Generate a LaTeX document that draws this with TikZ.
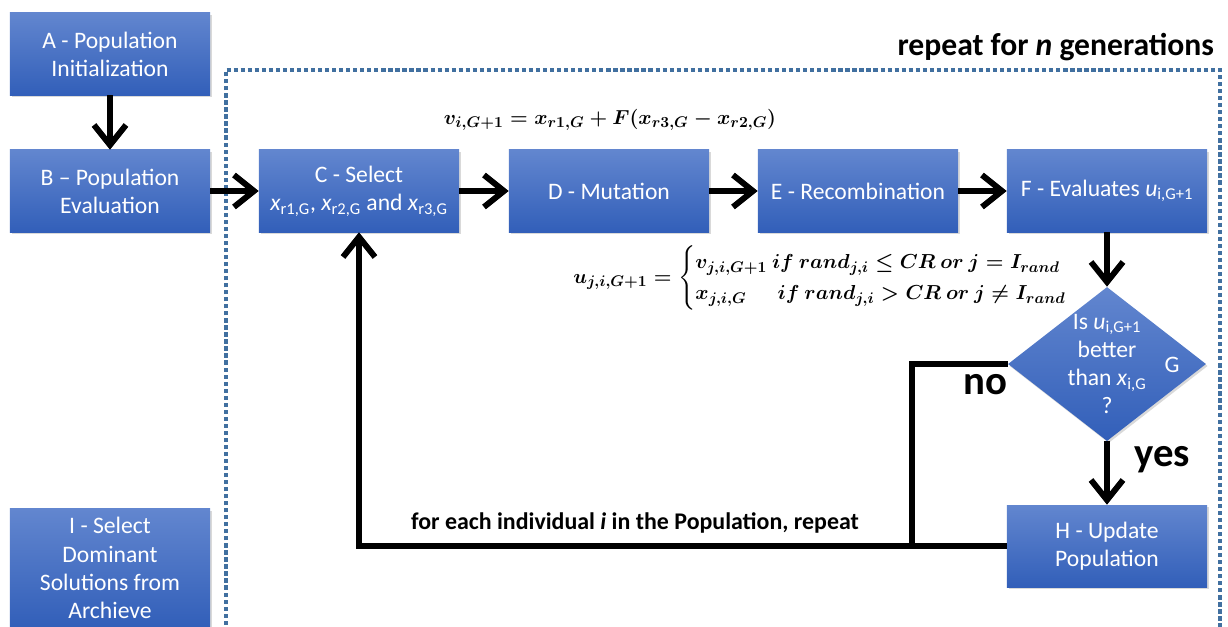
\documentclass[tikz,border=0pt]{standalone}
\usepackage{amsmath,amssymb}
\usepackage{fontspec}
\setmainfont{Carlito}
\usepackage{xcolor}
\usetikzlibrary{arrows.meta,shapes.geometric,shadows}

\definecolor{boxtop}{RGB}{98,134,207}
\definecolor{boxbot}{RGB}{50,95,185}
\definecolor{framecol}{RGB}{65,112,160}

\newcommand{\mutationeq}{$\boldsymbol{v_{i,G+1} = x_{r1,G} + F(x_{r3,G} - x_{r2,G})}$}
\newcommand{\crossovereq}{$\boldsymbol{u_{j,i,G+1} = \begin{cases} v_{j,i,G+1}\ if\ rand_{j,i} \le CR\ or\ j = I_{rand}\\ x_{j,i,G}\quad\ \ if\ rand_{j,i} > CR\ or\ j \neq I_{rand}\end{cases}}$}

\tikzset{
  stepbox/.style={draw=none, top color=boxtop, bottom color=boxbot, minimum width=5cm, minimum height=2.05cm, align=center, text=white, font=\fontsize{16.8}{20}\selectfont, drop shadow={opacity=0.3, shadow xshift=0.4mm, shadow yshift=-0.5mm}},
  decision/.style={diamond, draw=none, top color=boxtop, bottom color=boxbot, minimum width=4.95cm, minimum height=3.85cm, inner sep=-1.5cm, align=center, text=white, font=\fontsize{16.8}{20}\selectfont, drop shadow={opacity=0.3, shadow xshift=0.4mm, shadow yshift=-0.5mm}},
  boxtext/.style={text=white, align=center, font=\fontsize{16.8}{20}\selectfont},
  flow/.style={line width=4.2pt, -{Straight Barb[length=0.5cm, width=0.8cm]}},
  plain/.style={line width=4.2pt},
  biglabel/.style={font=\bfseries\fontsize{29}{32}\selectfont},
}

\begin{document}
\begin{tikzpicture}[x=0.025cm, y=-0.025cm]
\useasboundingbox (0,0) rectangle (1228,626);

% loop frame
\draw[framecol, line width=3pt, dash pattern=on 3pt off 2pt] (226,660) -- (226,70) -- (1220,70) -- (1220,660);
\node[anchor=east, font=\bfseries\fontsize{22.5}{26}\selectfont] (gentitle) at (1219,47) {repeat for \textit{n} generations};

% steps
\node[stepbox] (popinit) at (110,54) {A - Population\\Initialization};
\node[stepbox] (popeval) at (110,191) {B -- Population\\Evaluation};
\node[stepbox] (select) at (359,191) {C - Select\\\textit{x}\textsubscript{r1,G}, \textit{x}\textsubscript{r2,G} and \textit{x}\textsubscript{r3,G}};
\node[stepbox] (mutation) at (609,191) {D - Mutation};
\node[stepbox] (recomb) at (858,191) {E - Recombination};
\node[stepbox] (evalu) at (1107,191) {F - Evaluates \textit{u}\textsubscript{i,G+1}};
\node[decision] (better) at (1107,364) {Is \textit{u}\textsubscript{i,G+1}\\better\\than \textit{x}\textsubscript{i,G}\\?};
\node[boxtext] (gmark) at (1172,365) {G};
\node[stepbox] (update) at (1107,546) {H - Update\\Population};
\node[stepbox, minimum height=2.95cm] (archive) at (110,568) {I - Select\\Dominant\\Solutions from\\Archieve};

% formulas
\node[font=\fontsize{15}{18}\selectfont] (mutform) at (610,120) {\mutationeq};
\node[font=\fontsize{15.3}{18.5}\selectfont] (crossform) at (831,278) {\crossovereq};

% connectors
\draw[flow] (popinit) -- (popeval);
\draw[flow] (popeval) -- (select);
\draw[flow] (select) -- (mutation);
\draw[flow] (mutation) -- (recomb);
\draw[flow] (recomb) -- (evalu);
\draw[flow] (evalu) -- (better);
\draw[flow] (better) -- (update);
\coordinate (nojoin) at (912,546);
\draw[plain] (better.west) -| (nojoin);
\draw[flow] (update.west) -| (select.south);

% labels
\node[biglabel] (nolabel) at (985,385) {no};
\node[biglabel] (yeslabel) at (1162,460) {yes};
\node[font=\bfseries\fontsize{17}{20}\selectfont] (looplabel) at (635,523) {for each individual \textit{i} in the Population, repeat};

\end{tikzpicture}
\end{document}
